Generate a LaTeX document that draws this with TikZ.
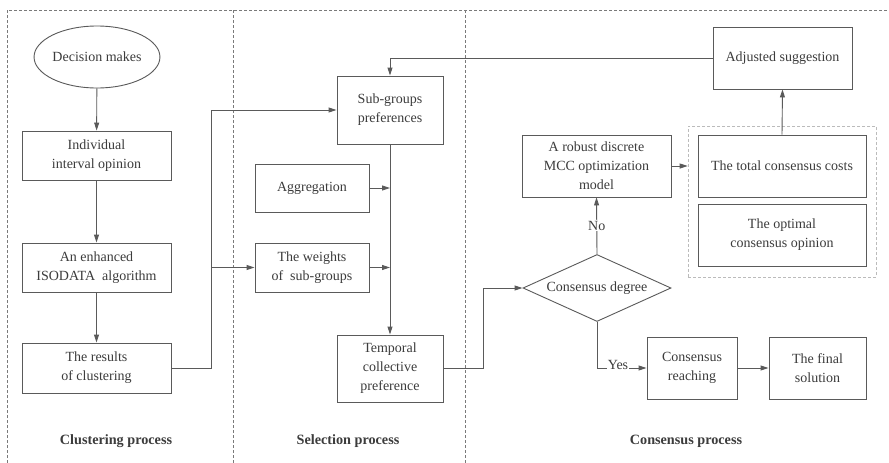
\documentclass[tikz,border=0pt]{standalone}
\usepackage{fontspec}
\setmainfont{Liberation Serif}
\usetikzlibrary{shapes.geometric,arrows.meta}
\definecolor{linec}{HTML}{5A5A5A}
\definecolor{textc}{HTML}{3C3C3C}
\definecolor{panelc}{HTML}{7A7A7A}
\definecolor{grpc}{HTML}{BBBBBB}
\begin{document}
\begin{tikzpicture}[x=1pt,y=-1pt,
  box/.style={draw=linec, line width=0.9pt, rectangle, align=center, text=textc,
    font=\fontsize{14}{19}\selectfont, inner sep=0pt},
  lbl/.style={text=textc, font=\fontsize{14.2}{16}\selectfont\bfseries},
  conn/.style={draw=linec, line width=0.9pt},
  arr/.style={conn, -{Triangle[length=8pt,width=5pt]}},
  panel/.style={draw=panelc, line width=0.6pt, dash pattern=on 3pt off 2pt},
  grp/.style={draw=grpc, line width=0.8pt, dash pattern=on 3pt off 2pt, inner sep=0pt},
  tag/.style={text=textc, font=\fontsize{14}{16}\selectfont, fill=white, inner sep=1pt}]
\useasboundingbox (0,0) rectangle (889,463);
\fill[white] (0,0) rectangle (889,463);
% panels
\draw[panel] (7,463) -- (7,10) -- (889,10);
\draw[panel] (233,10) -- (233,463);
\draw[panel] (465,10) -- (465,463);
% clustering
\node[box, ellipse, minimum width=120pt, minimum height=62pt] (dm) at (97,57) {Decision makes};
\node[box, minimum width=149pt, minimum height=49pt] (iio) at (96.5,155.5) {Individual\\interval opinion};
\node[box, minimum width=149pt, minimum height=49pt] (iso) at (96.5,267.5) {An enhanced\\ISODATA\ \ algorithm};
\node[box, minimum width=149pt, minimum height=50pt] (res) at (96.5,368) {The results\\of clustering};
\node[lbl] (l1) at (116,441) {Clustering process};
% selection
\node[box, minimum width=106pt, minimum height=68pt] (sgp) at (390,110) {Sub-groups\\preferences};
\node[box, minimum width=114pt, minimum height=48pt] (agg) at (312,188) {Aggregation};
\node[box, minimum width=114pt, minimum height=49pt] (wts) at (312,267.5) {The weights\\of\ \ sub-groups};
\node[box, minimum width=106pt, minimum height=67pt] (tmp) at (390,368.5) {Temporal\\collective\\preference};
\node[lbl] (l2) at (348,441) {Selection process};
% consensus
\node[grp, minimum width=188pt, minimum height=151pt] (grp) at (782,201.5) {};
\node[box, minimum width=168pt, minimum height=62pt] (tcc) at (782,166) {The total consensus costs};
\node[box, minimum width=168pt, minimum height=62pt] (oco) at (782,235) {The optimal\\consensus opinion};
\node[box, minimum width=139pt, minimum height=62pt] (adj) at (782.5,58) {Adjusted suggestion};
\node[box, minimum width=149pt, minimum height=62pt] (mcc) at (596.5,166) {A robust discrete\\MCC optimization\\model};
\node[box, diamond, shape aspect=2.2, minimum width=148pt, minimum height=67pt] (cd) at (597,288) {Consensus degree};
\node[box, minimum width=90pt, minimum height=62pt] (cr) at (692,368) {Consensus\\reaching};
\node[box, minimum width=97pt, minimum height=62pt] (fs) at (817.5,368) {The final\\solution};
\node[lbl] (l3) at (686,441) {Consensus process};
% connectors
\draw[arr] (dm) -- (iio);
\draw[arr] (iio) -- (iso);
\draw[arr] (iso) -- (res);
\coordinate (t1) at (211,110);
\coordinate (t2) at (211,267.5);
\draw[arr] (res.east) -| (t1) -- (sgp.west);
\draw[arr] (t2) -- (wts.west);
\draw[arr] (sgp) -- (tmp);
\draw[arr] (agg.east) -- (agg.east -| sgp.south);
\draw[arr] (wts.east) -- (wts.east -| sgp.south);
\coordinate (t3) at (483,368.5);
\draw[arr] (tmp.east) -- (t3) |- (cd.west);
\draw[arr] (cd.north) -- (mcc.south) node[tag, midway] {No};
\draw[arr] (mcc.east) -- (grp.west |- mcc.east);
\draw[arr] (tcc.north) -- (adj.south);
\draw[arr] (adj.west) -| (sgp.north);
\draw[arr] (cd.south) |- (cr.west);
\node[tag] (yes) at (618,365) {Yes};
\draw[arr] (cr) -- (fs);
\end{tikzpicture}
\end{document}
